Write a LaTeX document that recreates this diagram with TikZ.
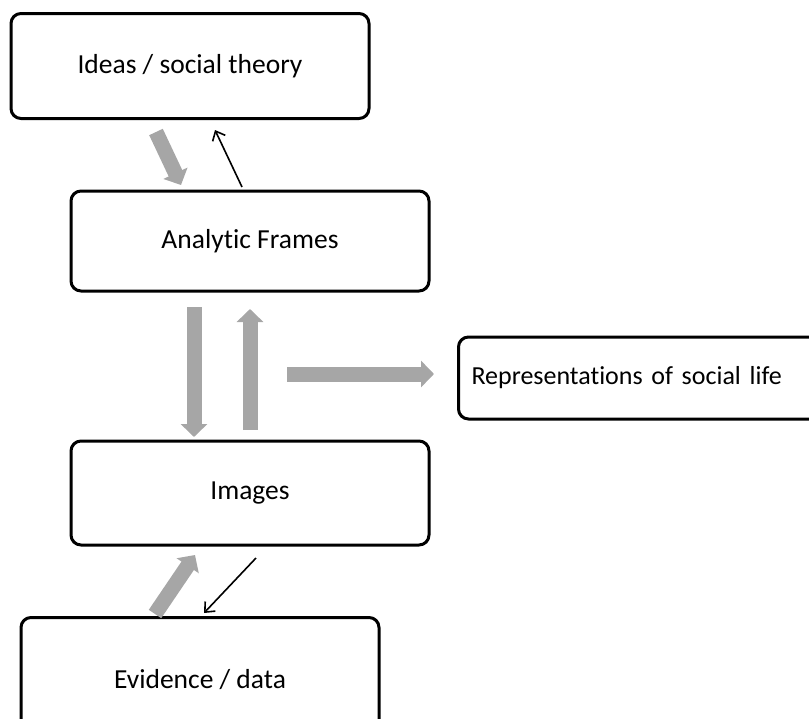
\documentclass[tikz,border=0pt]{standalone}
\usepackage{fontspec}
\setmainfont[Ligatures=NoCommon]{Carlito}
\usetikzlibrary{arrows.meta}
\definecolor{arrowgray}{HTML}{A6A6A6}
\tikzset{
  box/.style={draw=black, line width=3pt, rounded corners=10pt, minimum width=358pt, inner sep=0pt, font=\fontsize{27.5}{32}\selectfont},
  grayarrow/.style={draw=arrowgray, line width=15pt, -{Triangle[width=26pt,length=13pt]}},
  thinarrow/.style={draw=black, line width=1.6pt, -{Straight Barb[width=14pt,length=8pt]}}
}
\begin{document}
\begin{tikzpicture}[x=1pt,y=-1pt]
\useasboundingbox (0,0) rectangle (809,718);
\node[box, minimum height=105pt] (ideas) at (190,66) {Ideas / social theory};
\node[box, minimum height=100pt] (frames) at (250,241) {Analytic Frames};
\node[box, minimum height=104pt] (images) at (250,493) {Images};
\node[box, minimum height=125pt] (evidence) at (200,680) {Evidence / data};
\node[box, minimum height=82pt, anchor=west, text width=360pt, align=left, inner xsep=13pt, minimum width=0pt, font=\fontsize{26}{30}\selectfont] (repr) at (457,378) {Representations of social life};
% arrow end points
\coordinate (a1s) at (156,132); \coordinate (a1e) at (181,185);
\coordinate (b1s) at (242,187); \coordinate (b1e) at (215,130);
\coordinate (a2s) at (194,307); \coordinate (a2e) at (194,437);
\coordinate (a3s) at (250,430); \coordinate (a3e) at (250,309);
\coordinate (a4s) at (287,374); \coordinate (a4e) at (434,374);
\coordinate (a5s) at (155,614); \coordinate (a5e) at (195,555);
\coordinate (b2s) at (256,558); \coordinate (b2e) at (204,613);
\draw[grayarrow] (a1s) -- (a1e);
\draw[thinarrow] (b1s) -- (b1e);
\draw[grayarrow] (a2s) -- (a2e);
\draw[grayarrow] (a3s) -- (a3e);
\draw[grayarrow] (a4s) -- (a4e);
\draw[grayarrow] (a5s) -- (a5e);
\draw[thinarrow] (b2s) -- (b2e);
\end{tikzpicture}
\end{document}
